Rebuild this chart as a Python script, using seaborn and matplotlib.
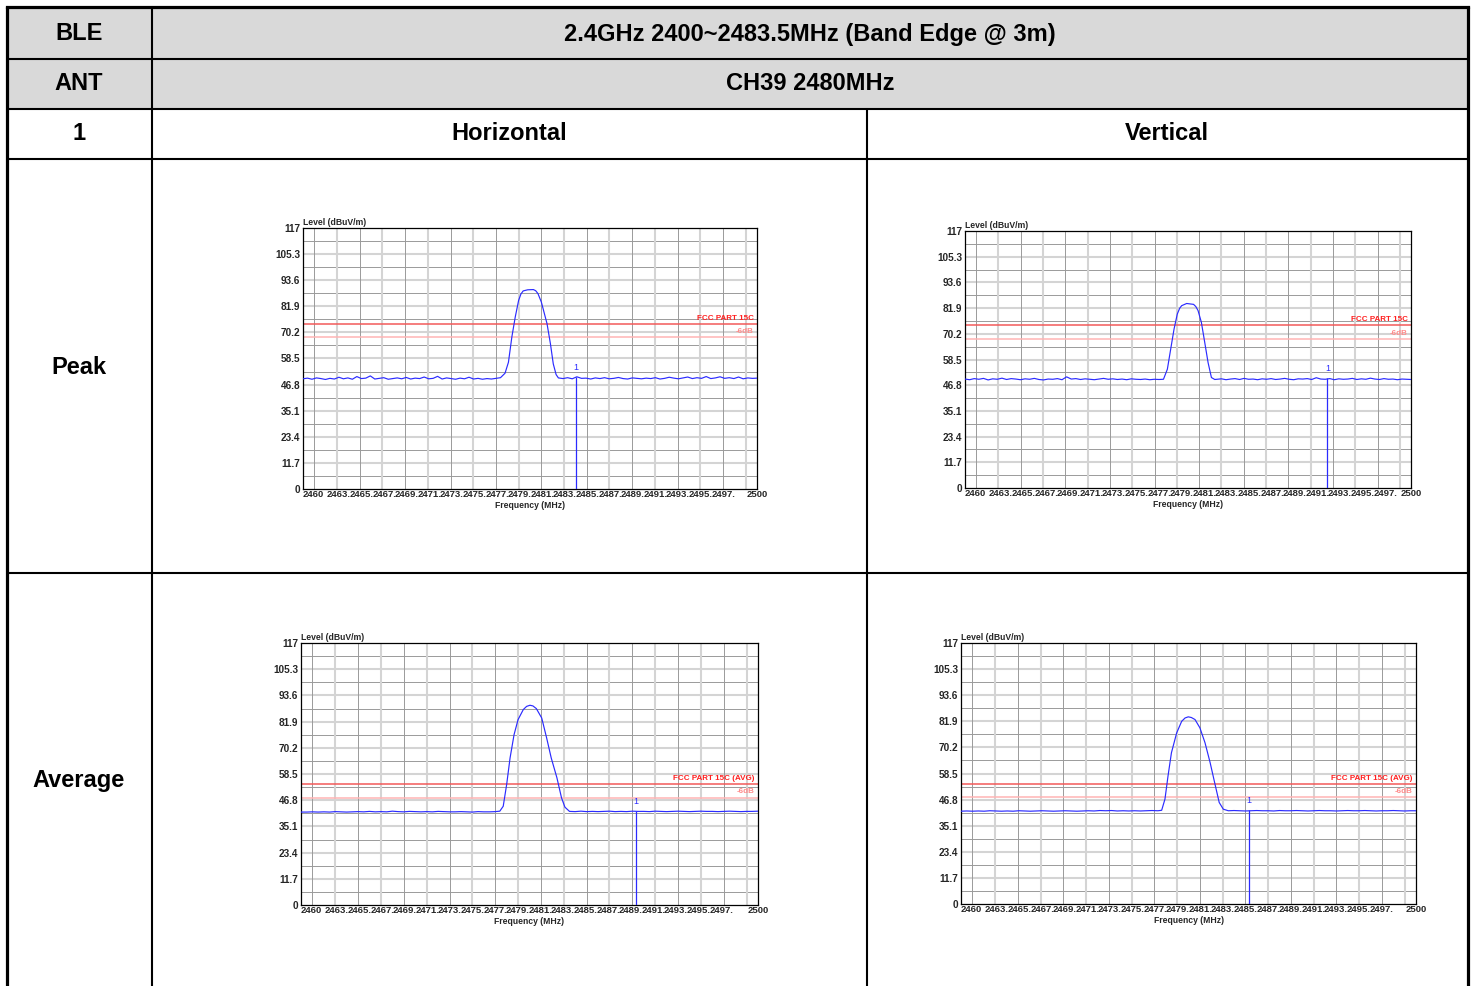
import numpy as np
import pandas as pd
import matplotlib
matplotlib.use("Agg")
import matplotlib.pyplot as plt
from matplotlib.patches import Rectangle
import seaborn as sns

# ---------------- data ----------------
BLE_LABEL = "BLE"
ANT_LABEL = "ANT"
ANT_NO = "1"
HEADER_TITLE = "2.4GHz 2400~2483.5MHz (Band Edge @ 3m)"
CHANNEL = "CH39 2480MHz"
ROW_LABELS = ["Peak", "Average"]
COL_LABELS = ["Horizontal", "Vertical"]

Y_TICKS = [0, 11.7, 23.4, 35.1, 46.8, 58.5, 70.2, 81.9, 93.6, 105.3, 117]
Y_TICK_LABELS = ["0", "11.7", "23.4", "35.1", "46.8", "58.5", "70.2", "81.9", "93.6", "105.3", "117"]
X_TICK_LABELS = ["2460", "2463.", "2465.", "2467.", "2469.", "2471.", "2473.", "2475.", "2477.",
                 "2479.", "2481.", "2483.", "2485.", "2487.", "2489.", "2491.", "2493.", "2495.",
                 "2497.", "2500"]

PEAK_LIMIT = 74.0
AVG_LIMIT = 54.0
PEAK_LIMIT_LABEL = "FCC PART 15C"
AVG_LIMIT_LABEL = "FCC PART 15C (AVG)"
MARGIN_LABEL = "-6dB"

# --- Horizontal / Peak ---
hp_span_left = (2460.0, 2477.0)
hp_floor_left = [49.4, 49.7, 49.2, 49.8, 49.5, 49.1, 49.6, 49.3, 50.1, 49.4,
                 49.8, 49.2, 50.4, 49.5, 49.7, 50.7, 49.3, 49.6, 49.9, 49.2,
                 49.5, 49.8, 49.4, 50.0, 49.3, 49.7, 49.5, 50.2, 49.4, 49.6,
                 50.5, 49.3, 49.8, 49.5, 49.2, 49.7, 49.4, 50.1, 49.3, 49.6,
                 49.2, 49.5, 49.3, 49.6]
hp_peak_freq = [2477.4, 2477.8, 2478.1, 2478.4, 2478.7, 2479.0, 2479.2, 2479.4, 2479.8, 2480.3,
                2480.5, 2480.7, 2481.0, 2481.5, 2481.8, 2482.05, 2482.3]
hp_peak_level = [49.9, 51.9, 56.8, 68.1, 77.1, 84.6, 87.4, 88.8, 89.3, 89.4,
                 88.9, 87.6, 83.8, 74.1, 65.1, 56.1, 51.3]
hp_span_right = (2482.5, 2500.0)
hp_floor_right = [49.8, 49.5, 49.9, 49.4, 50.3, 49.6, 49.7, 49.3, 49.8, 49.5,
                  49.9, 49.4, 49.6, 50.0, 49.5, 49.3, 49.8, 49.6, 49.4, 49.7,
                  49.5, 49.9, 49.3, 49.6, 50.1, 49.7, 49.4, 49.8, 50.2, 49.5,
                  49.9, 49.6, 50.4, 49.5, 49.8, 50.3, 49.6, 49.9, 49.5, 50.2,
                  49.4, 49.8, 49.6, 49.7]
hp_marker = (2484.05, 50.2)

# --- Vertical / Peak ---
vp_span_left = (2460.0, 2477.4)
vp_floor_left = [49.6, 49.3, 49.8, 49.5, 49.9, 49.2, 49.7, 49.5, 50.0, 49.4,
                 49.8, 49.6, 49.3, 49.7, 49.5, 49.9, 49.4, 49.2, 49.6, 49.5,
                 49.8, 49.3, 50.6, 49.6, 49.8, 49.4, 49.7, 49.5, 49.3, 49.6,
                 49.9, 49.5, 49.7, 49.4, 49.6, 49.3, 49.7, 49.5, 49.4, 49.6,
                 49.3, 49.5, 49.4]
vp_peak_freq = [2477.8, 2478.15, 2478.45, 2478.75, 2479.04, 2479.25, 2479.43, 2479.88, 2480.5,
                2480.7, 2480.9, 2481.2, 2481.5, 2481.8, 2482.1, 2482.4]
vp_peak_level = [49.5, 54.1, 63.3, 72.4, 79.2, 81.8, 83.0, 84.0, 83.6,
                 82.6, 80.8, 75.4, 66.3, 57.1, 50.3, 49.4]
vp_span_right = (2482.6, 2500.0)
vp_floor_right = [49.5, 49.7, 49.3, 49.6, 49.8, 49.4, 49.9, 49.5, 49.6, 49.3,
                  49.7, 49.5, 49.8, 49.4, 49.6, 49.9, 49.5, 49.3, 49.7, 49.6,
                  49.8, 49.4, 50.2, 49.6, 49.5, 49.8, 49.3, 49.7, 49.5, 49.6,
                  49.9, 49.4, 49.7, 49.5, 50.0, 49.6, 49.4, 49.8, 49.5, 49.6,
                  49.3, 49.6, 49.5, 49.4]
vp_marker = (2492.5, 50.2)

# --- Horizontal / Average ---
ha_span_left = (2460.0, 2477.0)
ha_floor_left = [41.5, 41.5, 41.6, 41.5, 41.6, 41.5, 41.7, 41.6, 41.5, 41.6,
                 41.7, 41.6, 41.8, 41.6, 41.7, 41.6, 41.9, 41.7, 41.6, 41.8,
                 41.7, 41.6, 41.7, 41.6, 41.8, 41.7, 41.6, 41.6, 41.7, 41.6,
                 41.5, 41.7, 41.6, 41.6, 41.7]
ha_peak_freq = [2477.4, 2477.7, 2478.0, 2478.3, 2478.65, 2479.0, 2479.46, 2479.75, 2480.04, 2480.3,
                2480.6, 2481.07, 2481.5, 2481.9, 2482.4, 2482.8, 2483.1]
ha_peak_level = [41.9, 44.1, 53.8, 65.7, 76.1, 82.8, 87.3, 88.7, 89.2, 88.9,
                 87.7, 83.5, 74.6, 65.7, 56.8, 47.9, 43.7]
ha_span_right = (2483.5, 2500.0)
ha_floor_right = [41.8, 41.7, 41.9, 41.7, 41.8, 41.7, 41.8, 41.9, 41.7, 41.8,
                  41.7, 41.9, 41.8, 41.8, 41.7, 41.9, 41.8, 41.7, 41.8, 41.9,
                  41.8, 41.7, 41.8, 41.9, 41.8, 41.8, 41.7, 41.8, 41.9, 41.8,
                  41.7, 41.8, 41.8, 41.9]
ha_marker = (2489.3, 41.9)

# --- Vertical / Average ---
va_span_left = (2460.0, 2477.3)
va_floor_left = [41.6, 41.7, 41.6, 41.7, 41.6, 41.8, 41.7, 41.6, 41.7, 41.6,
                 41.8, 41.7, 41.6, 41.7, 41.8, 41.7, 41.6, 41.7, 41.8, 41.7,
                 41.6, 41.7, 41.8, 41.7, 41.9, 41.8, 41.9, 41.7, 41.8, 41.7,
                 41.8, 41.7, 41.8, 41.9, 41.8]
va_peak_freq = [2477.64, 2477.93, 2478.2, 2478.5, 2478.96, 2479.4, 2479.7, 2479.98, 2480.25, 2480.57,
                2481.0, 2481.45, 2481.9, 2482.33, 2482.7, 2483.06]
va_peak_level = [42.0, 47.0, 57.4, 67.8, 76.7, 81.9, 83.4, 83.9, 83.6, 82.7,
                 79.0, 72.3, 63.4, 53.7, 45.5, 42.5]
va_span_right = (2483.5, 2500.0)
va_floor_right = [41.8, 41.9, 41.8, 41.7, 41.8, 41.9, 41.8, 41.8, 41.7, 41.9,
                  41.8, 41.8, 41.9, 41.8, 41.7, 41.8, 41.9, 41.8, 41.8, 41.7,
                  41.8, 41.9, 41.8, 41.8, 41.9, 41.8, 41.7, 41.8, 41.8, 41.9,
                  41.8, 41.7, 41.8, 41.8]
va_marker = (2485.3, 42.0)

# ---------------- style ----------------
sns.set_style("white")
plt.rcParams["font.family"] = ["Liberation Sans", "DejaVu Sans"]

W, H = 1477, 986
fig = plt.figure(figsize=(W / 100, H / 100), dpi=100)

BLUE = "#2b2bff"
LIMIT_RED = "#f25a5a"
MARGIN_RED = "#ffb4b4"
LIGHT_GRID = "#d4d4d4"
DARK_GRID = "#9a9a9a"

# ---------------- table ----------------
tab = fig.add_axes([0, 0, 1, 1])
tab.set_xlim(0, W)
tab.set_ylim(H, 0)
tab.axis("off")
tab.add_patch(Rectangle((7, 7), 1461, 102, facecolor="#d9d9d9", edgecolor="none", zorder=0))
LW_IN = 1.5
LW_OUT = 2.3
for y in [59, 109, 159, 573]:
    tab.plot([7, 1468], [y, y], color="black", lw=LW_IN, solid_capstyle="butt")
tab.plot([7, 1468], [7, 7], color="black", lw=LW_OUT, solid_capstyle="projecting")
tab.plot([7, 7], [7, H + 5], color="black", lw=LW_OUT)
tab.plot([1468, 1468], [7, H + 5], color="black", lw=LW_OUT)
tab.plot([152, 152], [7, H + 5], color="black", lw=LW_IN)
tab.plot([867, 867], [109, H + 5], color="black", lw=LW_IN)

hfs = 17
kw = dict(ha="center", va="center", fontsize=hfs, fontweight="bold", color="black")
tab.text(79, 34, BLE_LABEL, **kw)
tab.text(810, 34, HEADER_TITLE, **kw)
tab.text(79, 84, ANT_LABEL, **kw)
tab.text(810, 84, CHANNEL, **kw)
tab.text(79, 134, ANT_NO, **kw)
tab.text(509, 134, COL_LABELS[0], **kw)
tab.text(1167, 134, COL_LABELS[1], **kw)
tab.text(79, 367, ROW_LABELS[0], **kw)
tab.text(79, 781, ROW_LABELS[1], **kw)


def make_axes(left, top, right, bottom):
    return fig.add_axes([left / W, 1 - bottom / H, (right - left) / W, (bottom - top) / H])


def draw_panel(ax, width_px, span_l, floor_l, peak_f, peak_v, span_r, floor_r, marker,
               limit, limit_label):
    fl = np.linspace(span_l[0], span_l[1], len(floor_l))
    fr = np.linspace(span_r[0], span_r[1], len(floor_r))
    df = pd.DataFrame({
        "freq": np.concatenate([fl, peak_f, fr]),
        "level": np.concatenate([floor_l, peak_v, floor_r]),
    })
    ax.set_xlim(2460, 2500)
    ax.set_ylim(0, 117)
    # grid
    for y in Y_TICKS[1:-1]:
        ax.axhline(y, color=LIGHT_GRID, lw=1.5, zorder=0)
    for y in np.arange(5.85, 117, 11.7):
        ax.axhline(y, color=DARK_GRID, lw=0.7, zorder=0)
    for x in np.arange(2463, 2500, 4):
        ax.axvline(x, color=LIGHT_GRID, lw=1.5, zorder=0)
    for x in np.arange(2461, 2500, 4):
        ax.axvline(x, color=DARK_GRID, lw=0.7, zorder=0)
    # limit lines
    ax.axhline(limit, color=LIMIT_RED, lw=1.1, zorder=1)
    ax.axhline(limit - 6, color=MARGIN_RED, lw=1.1, zorder=1)
    ax.text(2499.7, limit + 0.9, limit_label, color="#ff2020", fontsize=5.8,
            fontweight="bold", ha="right", va="bottom")
    ax.text(2499.7, limit - 6 + 0.9, MARGIN_LABEL, color="#ff8a8a", fontsize=5.8,
            fontweight="bold", ha="right", va="bottom")
    # trace
    sns.lineplot(data=df, x="freq", y="level", ax=ax, color=BLUE, lw=0.85,
                 estimator=None, sort=False, zorder=3)
    # marker
    mf, mv = marker
    ax.vlines(mf, 0, mv, color=BLUE, lw=0.9, zorder=3)
    ax.text(mf, mv + 2.2, "1", color=BLUE, fontsize=6.5, ha="center", va="bottom")
    # axes decoration
    for s in ax.spines.values():
        s.set_color("black")
        s.set_linewidth(0.9)
    ax.set_yticks(Y_TICKS, Y_TICK_LABELS)
    pos = [2460.0] + [2460 + 40 * (36 + k * 22.6) / width_px for k in range(18)] + [2500.0]
    ax.set_xticks(pos, X_TICK_LABELS)
    ax.tick_params(axis="both", length=0)
    ax.tick_params(axis="y", labelsize=7.2, pad=2)
    ax.tick_params(axis="x", labelsize=6.8, pad=1)
    for lbl in ax.get_yticklabels():
        lbl.set_fontweight("bold")
    xl = ax.get_xticklabels()
    for lbl in xl:
        lbl.set_fontweight("bold")
    xl[0].set_ha("left")
    ax.set_xlabel("Frequency (MHz)", fontsize=6.2, fontweight="bold", labelpad=1)
    ax.set_ylabel("")
    ax.text(0.0, 1.004, "Level (dBuV/m)", transform=ax.transAxes, ha="left", va="bottom",
            fontsize=6.2, fontweight="bold")


ax_hp = make_axes(303, 228, 757, 489)
draw_panel(ax_hp, 454, hp_span_left, hp_floor_left, hp_peak_freq, hp_peak_level,
           hp_span_right, hp_floor_right, hp_marker, PEAK_LIMIT, PEAK_LIMIT_LABEL)

ax_vp = make_axes(965, 231, 1411, 488)
draw_panel(ax_vp, 446, vp_span_left, vp_floor_left, vp_peak_freq, vp_peak_level,
           vp_span_right, vp_floor_right, vp_marker, PEAK_LIMIT, PEAK_LIMIT_LABEL)

ax_ha = make_axes(301, 643, 758, 905)
draw_panel(ax_ha, 457, ha_span_left, ha_floor_left, ha_peak_freq, ha_peak_level,
           ha_span_right, ha_floor_right, ha_marker, AVG_LIMIT, AVG_LIMIT_LABEL)

ax_va = make_axes(961, 643, 1416, 904)
draw_panel(ax_va, 455, va_span_left, va_floor_left, va_peak_freq, va_peak_level,
           va_span_right, va_floor_right, va_marker, AVG_LIMIT, AVG_LIMIT_LABEL)

fig.savefig("out.png", dpi=100, facecolor="white")
